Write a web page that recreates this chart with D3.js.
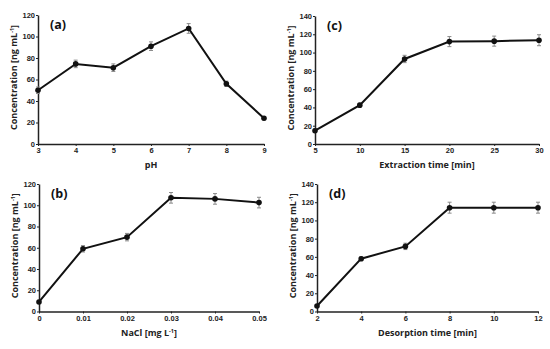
<!DOCTYPE html>
<html>
<head>
<meta charset="utf-8">
<script src="https://cdn.jsdelivr.net/npm/d3@7"></script>
<style>
  body { margin: 0; background: #fff; }
  svg { font-family: "Open Sans", "DejaVu Sans", sans-serif; font-weight: bold; }
</style>
</head>
<body>
<svg id="chart" width="550" height="349"></svg>
<script>
// panel (a) pH
var phX = [3, 4, 5, 6, 7, 8, 9];
var phY = [50, 74.5, 71, 91, 107.5, 56, 24];
var phErr = [3, 3.5, 3.5, 4, 4.5, 2.5, 1.5];

// panel (b) NaCl
var naclX = [0, 0.01, 0.02, 0.03, 0.04, 0.05];
var naclY = [9, 59, 70, 107, 106, 102.5];
var naclErr = [1.5, 3, 3.5, 5, 5, 5];

// panel (c) extraction time
var extX = [5, 10, 15, 20, 25, 30];
var extY = [14.5, 42.5, 93, 112, 112.5, 113.5];
var extErr = [2, 2, 4, 5.5, 5.5, 6];

// panel (d) desorption time
var desX = [2, 4, 6, 8, 10, 12];
var desY = [6, 58, 71.5, 114, 114, 114];
var desErr = [1.5, 2, 3.5, 6, 6, 6];

var svg = d3.select('#chart');

function drawPanel(opt) {
	var x = d3.scaleLinear().domain(opt.xDomain).range([opt.left, opt.right]);
	var y = d3.scaleLinear().domain(opt.yDomain).range([opt.bottom, opt.top]);
	var g = svg.append('g');

	var xAxis = d3.axisBottom(x).tickValues(opt.xTicks).tickSize(2).tickSizeOuter(0).tickFormat(opt.xFormat || d3.format('d'));
	var yAxis = d3.axisLeft(y).tickValues(d3.range(opt.yDomain[0], opt.yDomain[1] + 1, 20)).tickSize(2).tickSizeOuter(0);

	g.append('g').attr('transform', 'translate(0,' + opt.bottom + ')').call(xAxis)
		.call(a => a.selectAll('text').attr('y', 4).attr('dy', '0.71em').style('font-size', '7.5px').style('font-weight', 'bold').attr('fill', '#222').attr('font-family', null));
	g.append('g').attr('transform', 'translate(' + opt.left + ',0)').call(yAxis)
		.call(a => a.selectAll('text').attr('x', -3).style('font-size', '7.5px').style('font-weight', 'bold').attr('fill', '#222').attr('font-family', null));
	g.selectAll('.domain').attr('stroke', '#222').attr('stroke-width', 1.5);
	g.selectAll('.tick line').attr('stroke', '#222').attr('stroke-width', 1);

	// error bars
	var eb = g.append('g').attr('stroke', '#8a8a8a').attr('stroke-width', 1);
	opt.xs.forEach(function(xv, i) {
		var cx = x(xv), y1 = y(opt.ys[i] + opt.err[i]), y2 = y(opt.ys[i] - opt.err[i]);
		eb.append('line').attr('x1', cx).attr('x2', cx).attr('y1', y1).attr('y2', y2);
		eb.append('line').attr('x1', cx - 2).attr('x2', cx + 2).attr('y1', y1).attr('y2', y1);
		eb.append('line').attr('x1', cx - 2).attr('x2', cx + 2).attr('y1', y2).attr('y2', y2);
	});

	var line = d3.line().x(d => x(d[0])).y(d => y(d[1]));
	var pts = opt.xs.map((v, i) => [v, opt.ys[i]]);
	g.append('path').datum(pts).attr('d', line).attr('fill', 'none').attr('stroke', '#111').attr('stroke-width', 2);
	g.selectAll('circle.pt').data(pts).enter().append('circle')
		.attr('cx', d => x(d[0])).attr('cy', d => y(d[1])).attr('r', 2.8).attr('fill', '#111');

	// panel letter
	g.append('text').attr('x', opt.left + 12).attr('y', opt.top + 14)
		.style('font-size', '12.5px').attr('fill', '#111').text(opt.letter);

	// y title
	var yt = g.append('text')
		.attr('transform', 'translate(' + (opt.left - 21) + ',' + ((opt.top + opt.bottom) / 2 - 2) + ') rotate(-90)')
		.attr('text-anchor', 'middle').style('font-size', '9px').attr('fill', '#222');
	yt.append('tspan').text('Concentration [ng mL');
	yt.append('tspan').attr('dy', -3).style('font-size', '5.5px').text('-1');
	yt.append('tspan').attr('dy', 3).text(']');

	// x title
	var xt = g.append('text').attr('x', (opt.left + opt.right) / 2).attr('y', opt.bottom + 24)
		.attr('text-anchor', 'middle').style('font-size', '9px').attr('fill', '#222');
	opt.xTitle.forEach(function(p) {
		var t = xt.append('tspan').text(p.t);
		if (p.sup) t.attr('dy', -3).style('font-size', '5.5px');
		if (p.down) t.attr('dy', 3);
	});
}

drawPanel({ left: 38, right: 264, top: 15, bottom: 144, xDomain: [3, 9], yDomain: [0, 120],
	xTicks: phX, xs: phX, ys: phY, err: phErr, letter: '(a)', xTitle: [{ t: 'pH' }] });

drawPanel({ left: 39, right: 259, top: 184, bottom: 311.5, xDomain: [0, 0.05], yDomain: [0, 120],
	xTicks: naclX, xFormat: d => d === 0 ? '0' : d3.format('.2f')(d), xs: naclX, ys: naclY, err: naclErr, letter: '(b)',
	xTitle: [{ t: 'NaCl [mg L' }, { t: '-1', sup: true }, { t: ']', down: true }] });

drawPanel({ left: 315, right: 539, top: 16, bottom: 144, xDomain: [5, 30], yDomain: [0, 140],
	xTicks: extX, xs: extX, ys: extY, err: extErr, letter: '(c)', xTitle: [{ t: 'Extraction time [min]' }] });

drawPanel({ left: 317, right: 538, top: 184, bottom: 311.5, xDomain: [2, 12], yDomain: [0, 140],
	xTicks: desX, xs: desX, ys: desY, err: desErr, letter: '(d)', xTitle: [{ t: 'Desorption time [min]' }] });
</script>
</body>
</html>
